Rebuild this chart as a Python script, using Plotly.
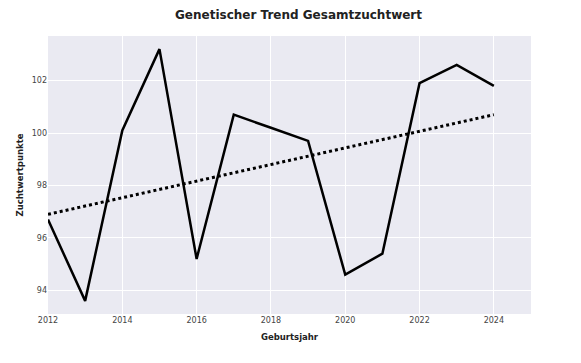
import plotly.graph_objects as go

years = [2012, 2013, 2014, 2015, 2016, 2017, 2018, 2019, 2020, 2021, 2022, 2023, 2024]
values = [96.7, 93.6, 100.1, 103.2, 95.2, 100.7, 100.2, 99.7, 94.6, 95.4, 101.9, 102.6, 101.8]
trend_years = [2012, 2024]
trend_values = [96.9, 100.7]

fig = go.Figure()
fig.add_trace(go.Scatter(x=years, y=values, mode="lines",
                         line=dict(color="black", width=2.5), showlegend=False))
fig.add_trace(go.Scatter(x=trend_years, y=trend_values, mode="lines",
                         line=dict(color="black", width=3, dash="dot"), showlegend=False))

fig.update_layout(
    template="seaborn",
    width=581, height=363,
    margin=dict(l=40, r=58, t=28, b=57, autoexpand=False),
    font=dict(family="DejaVu Sans", size=8, color="#444"),
    title=dict(text="<b>Genetischer Trend Gesamtzuchtwert</b>", x=0.5, xanchor="center",
               y=0.982, yanchor="middle", font=dict(size=12, color="#222")),
    plot_bgcolor="rgb(234,234,242)",
)
fig.update_xaxes(range=[2012, 2025], dtick=2, tick0=2012, showgrid=True, gridcolor="white",
                 zeroline=False, ticks="", automargin=False,
                 title=dict(text="<b>Geburtsjahr</b>", font=dict(size=8.5, color="#222"), standoff=10))
fig.update_yaxes(range=[93.1, 103.7], dtick=2, tick0=94, showgrid=True, gridcolor="white",
                 zeroline=False, ticks="", automargin=False,
                 title=dict(text="<b>Zuchtwertpunkte</b>", font=dict(size=8.5, color="#222"), standoff=6))

fig.write_html("out.html")
